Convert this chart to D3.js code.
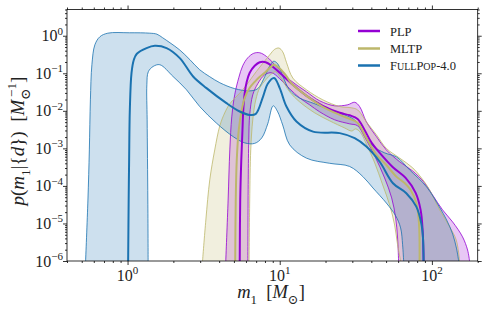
<!DOCTYPE html>
<html>
<head>
<meta charset="utf-8">
<script src="https://cdn.jsdelivr.net/npm/d3@7"></script>
<style>
  body { margin: 0; background: #fff; }
  svg { display: block; font-family: "Liberation Serif", "DejaVu Serif", serif; }
</style>
</head>
<body>
<div id="wrapper"></div>
<script>
// [m1, p] pairs
const plpUpper = [[4.42,1e-6],[4.58,4.2e-5],[4.7,9.1e-4],[4.84,0.0069],[5.06,0.0267],[5.38,0.0759],[5.71,0.158],[6.17,0.259],[6.75,0.341],[7.39,0.352],[8.18,0.281],[9.51,0.152],[11.63,0.067],[15,0.0321],[18.3,0.0185],[23,0.0136],[28,0.0145],[31.1,0.0169],[33.5,0.013],[37.1,0.0051],[43.2,0.00206],[50.2,0.00091],[61.4,0.00044],[74.7,0.00025],[89.5,0.00012],[101,5.75e-5],[117.5,2.3e-5],[136.8,1.1e-5],[159,4.4e-6],[171.6,1.96e-6],[176.8,1e-6]];
const plpMedian = [[5.46,1e-6],[5.5,4.2e-5],[5.59,4.9e-4],[5.69,0.0031],[5.76,0.0106],[5.89,0.0302],[6.07,0.0593],[6.35,0.103],[6.85,0.158],[7.39,0.197],[8.09,0.197],[8.86,0.158],[10,0.103],[12.2,0.0494],[15,0.0251],[19.2,0.0136],[24.8,0.00885],[28.8,0.0076],[32.5,0.0061],[36.1,0.0031],[40.2,0.0014],[45.4,0.00076],[55.2,0.00032],[67.2,0.000163],[78.2,6.5e-5],[84.3,2.3e-5],[86.9,6.7e-6],[88.2,1e-6]];
const plpLower = [[6.17,1e-6],[6.21,1.45e-4],[6.26,0.00169],[6.35,0.0078],[6.65,0.0267],[7.17,0.0525],[7.97,0.0912],[8.86,0.103],[10,0.0714],[11.63,0.0386],[13.5,0.0222],[15.7,0.0145],[18.3,0.0094],[23,0.00575],[28.8,0.0045],[32.5,0.004],[36.1,0.00203],[42.1,0.00063],[48.9,0.000163],[54.4,4.8e-5],[57.8,1.4e-5],[59.5,4.1e-6],[60.4,1e-6]];

const mltpUpper = [[3.11,1e-6],[3.27,1.24e-5],[3.47,1.45e-4],[3.74,9.1e-4],[4.04,0.004],[4.35,0.0088],[4.7,0.0154],[5.71,0.0363],[7.03,0.112],[8.6,0.311],[9.27,0.436],[9.89,0.47],[10.46,0.374],[11.1,0.19],[12.2,0.0745],[15,0.0363],[19.2,0.0196],[24.8,0.013],[29.7,0.012],[32.5,0.0106],[37.1,0.0051],[43.2,0.0023],[50.2,0.001],[61.4,0.00055],[75,0.0003],[87.3,0.000145],[96.6,7.8e-5],[112.4,2.3e-5],[130.7,8.2e-6],[144.6,3.6e-6],[152,1e-6]];
const mltpMedian = [[5.1,1e-6],[5.14,4.2e-5],[5.22,4.9e-4],[5.38,0.0031],[5.63,0.0106],[5.89,0.0222],[6.35,0.041],[6.85,0.0593],[7.39,0.0807],[7.97,0.103],[8.6,0.14],[9.13,0.169],[9.7,0.149],[10.8,0.097],[12,0.0525],[15,0.0251],[19.2,0.0128],[24.8,0.0078],[28.8,0.0061],[32.5,0.0048],[37.1,0.0019],[43.2,0.00067],[50.2,0.00036],[58.4,0.000177],[66.2,0.00012],[72.5,7.8e-5],[79,3.5e-5],[82.2,1.03e-5],[83,1e-6]];
const mltpLower = [[6.29,1e-6],[6.35,4.2e-5],[6.45,9.1e-4],[6.65,0.00575],[6.96,0.0196],[7.39,0.041],[8.09,0.067],[8.86,0.097],[9.41,0.11],[10.15,0.0759],[11.63,0.0321],[13.5,0.0174],[17,0.0088],[21.3,0.0054],[26.7,0.0035],[29.7,0.0029],[31.6,0.0033],[34,0.0026],[37.3,0.00124],[42.1,0.00041],[47.5,0.000106],[52.8,3.1e-5],[56.9,9.1e-6],[59.5,2.7e-6],[62.3,1e-6]];

const fullpopUpper = [[0.53,1e-6],[0.549,4.2e-5],[0.561,9.1e-4],[0.57,0.0196],[0.583,0.169],[0.61,0.575],[0.658,0.94],[0.742,1.17],[1.03,1.2],[1.4,1.17],[1.56,1.1],[1.7,0.885],[1.9,0.65],[2.2,0.42],[2.57,0.23],[2.98,0.124],[3.47,0.081],[4.04,0.056],[5.06,0.039],[6.35,0.034],[7.17,0.039],[7.97,0.081],[8.6,0.158],[9.13,0.209],[9.7,0.179],[10.46,0.086],[11.6,0.036],[13.5,0.022],[17,0.0154],[21.3,0.0106],[26.7,0.0078],[31.1,0.0057],[35.1,0.0029],[40.8,0.00117],[48.9,0.00076],[58.6,0.00059],[71.4,0.000267],[92.3,9.4e-5],[112,2.75e-5],[125,1.24e-5],[137,5.2e-6],[145,2.2e-6],[150,1e-6]];
const fullpopMedian = [[1.009,1e-6],[1.017,4.2e-5],[1.024,4.9e-4],[1.035,0.0106],[1.062,0.103],[1.1,0.229],[1.151,0.331],[1.333,0.47],[1.511,0.541],[1.804,0.47],[2.205,0.254],[2.697,0.0822],[3.302,0.0403],[4.467,0.016],[5.46,0.0096],[6.35,0.0078],[6.96,0.0083],[7.77,0.024],[8.34,0.0525],[9.18,0.0745],[10,0.0403],[11.07,0.013],[12.88,0.0052],[16.55,0.0028],[24.8,0.00255],[31.1,0.00187],[37.1,0.00112],[45.4,0.00044],[55.5,0.000118],[67.9,6.4e-5],[79,2.8e-5],[85.2,1e-5],[87.3,4.4e-6],[88.2,1e-6]];
const fullpopLower = [[1.365,1e-6],[1.359,4.2e-5],[1.345,0.00575],[1.339,0.0494],[1.369,0.11],[1.473,0.152],[1.63,0.169],[1.99,0.0822],[2.44,0.0363],[2.98,0.013],[3.84,0.0047],[4.94,0.00206],[5.89,0.0014],[6.85,0.00136],[7.62,0.0019],[8.34,0.0045],[9.06,0.0136],[9.7,0.0094],[10.46,0.0042],[11.63,0.00124],[14.97,0.00055],[21.3,0.0004],[28.8,0.00033],[35.2,0.000177],[41,8.8e-5],[50.2,3.5e-5],[57.8,1.6e-5],[62.3,7.6e-6],[64.2,2.7e-6],[65.2,1e-6]];

const legendLabels = ["PLP", "MLTP", "FullPop-4.0"];
const xMajor = [1, 10, 100];
const xMajorExp = ["0", "1", "2"];
const yMajor = [1e-6, 1e-5, 1e-4, 1e-3, 1e-2, 1e-1, 1];
const yMajorExp = ["\u22126", "\u22125", "\u22124", "\u22123", "\u22122", "\u22121", "0"];

const series = [
  { name: legendLabels[0], color: "#9400d3", upper: plpUpper, median: plpMedian, lower: plpLower },
  { name: legendLabels[1], color: "#bdb76b", upper: mltpUpper, median: mltpMedian, lower: mltpLower },
  { name: legendLabels[2], color: "#1a72b0", upper: fullpopUpper, median: fullpopMedian, lower: fullpopLower },
];

const dimensions = {
  width: 488,
  height: 311,
  margin: { top: 9.5, right: 10.3, bottom: 50, left: 67 },
};
dimensions.boundedWidth = dimensions.width - dimensions.margin.left - dimensions.margin.right;
dimensions.boundedHeight = dimensions.height - dimensions.margin.top - dimensions.margin.bottom;

const svg = d3.select("#wrapper").append("svg")
  .attr("width", dimensions.width)
  .attr("height", dimensions.height);

const bounds = svg.append("g")
  .attr("transform", `translate(${dimensions.margin.left},${dimensions.margin.top})`);

const xScale = d3.scaleLog().domain([0.4, 200]).range([0, dimensions.boundedWidth]);
const yScale = d3.scaleLog().domain([1e-6, 5]).range([dimensions.boundedHeight, 0]);

bounds.append("clipPath").attr("id", "plot-clip")
  .append("rect").attr("width", dimensions.boundedWidth).attr("height", dimensions.boundedHeight);
const plot = bounds.append("g").attr("clip-path", "url(#plot-clip)");

const lineGenerator = d3.line()
  .x((d) => xScale(d[0]))
  .y((d) => yScale(d[1]))
  .curve(d3.curveCatmullRom.alpha(0.5));

// bands
series.forEach((s) => {
  const d = lineGenerator(s.upper) + "L" + lineGenerator(s.lower.slice().reverse()).slice(1) + "Z";
  plot.append("path").attr("d", d)
    .attr("fill", s.color).attr("fill-opacity", 0.22).attr("stroke", "none");
});
series.forEach((s) => {
  [s.upper, s.lower].forEach((b) => {
    plot.append("path").attr("d", lineGenerator(b))
      .attr("fill", "none").attr("stroke", s.color).attr("stroke-width", 0.8);
  });
});
// medians
series.forEach((s) => {
  plot.append("path").attr("d", lineGenerator(s.median))
    .attr("fill", "none").attr("stroke", s.color).attr("stroke-width", 2);
});

// axes: ticks outward on all four sides
const xMinor = [];
const yMinor = [];
[0.1, 1, 10, 100].forEach((dec) => {
  for (let k = 2; k <= 9; k++) {
    const v = k * dec;
    if (v >= 0.4 && v <= 200) xMinor.push(v);
  }
});
[1e-6, 1e-5, 1e-4, 1e-3, 1e-2, 1e-1, 1].forEach((dec) => {
  for (let k = 2; k <= 9; k++) {
    const v = k * dec;
    if (v <= 5) yMinor.push(v);
  }
});

function styleAxis(g) {
  g.select(".domain").remove();
  g.selectAll(".tick line").attr("stroke", "#000").attr("stroke-width", 0.8);
}

const axes = [
  [d3.axisBottom, xScale, `translate(0,${dimensions.boundedHeight})`, xMajor, xMinor],
  [d3.axisTop, xScale, "translate(0,0)", xMajor, xMinor],
  [d3.axisLeft, yScale, "translate(0,0)", yMajor, yMinor],
  [d3.axisRight, yScale, `translate(${dimensions.boundedWidth},0)`, yMajor, yMinor],
];
axes.forEach(([axisFn, scale, tr, major, minor]) => {
  bounds.append("g").attr("transform", tr)
    .call(axisFn(scale).tickValues(minor).tickSize(2).tickFormat(""))
    .call(styleAxis);
  bounds.append("g").attr("transform", tr)
    .call(axisFn(scale).tickValues(major).tickSize(4).tickFormat(""))
    .call(styleAxis);
});

bounds.append("rect")
  .attr("width", dimensions.boundedWidth).attr("height", dimensions.boundedHeight)
  .attr("fill", "none").attr("stroke", "#000").attr("stroke-width", 0.8);

// tick labels
xMajor.forEach((v, i) => {
  const t = bounds.append("text")
    .attr("x", xScale(v)).attr("y", dimensions.boundedHeight + 19.5)
    .attr("text-anchor", "middle").attr("font-size", 16).attr("fill", "#222");
  t.append("tspan").text("10");
  t.append("tspan").attr("dy", -6.5).attr("font-size", 11).text(xMajorExp[i]);
});
yMajor.forEach((v, i) => {
  const t = bounds.append("text")
    .attr("x", -4).attr("y", yScale(v) + 5.5)
    .attr("text-anchor", "end").attr("font-size", 16).attr("fill", "#222");
  t.append("tspan").text("10");
  t.append("tspan").attr("dy", -6.5).attr("font-size", 11).text(yMajorExp[i]);
});

// rich label helper
function addRich(sel, parts, size) {
  let shift = 0;
  parts.forEach(([str, style, dx]) => {
    const ts = sel.append("tspan").text(str);
    let target = 0;
    let fs = size;
    if (style.includes("sub")) { target = size * 0.3; fs = size * 0.7; }
    if (style.includes("sup")) { target = -size * 0.42; fs = size * 0.7; }
    ts.attr("dy", target - shift).attr("font-size", fs);
    if (style.includes("i")) ts.attr("font-style", "italic");
    if (dx) ts.attr("dx", dx);
    shift = target;
  });
}

const yLabel = svg.append("text")
  .attr("transform", "translate(24,141) rotate(-90)")
  .attr("text-anchor", "middle").attr("fill", "#222");
addRich(yLabel, [
  ["p", "i"], ["(", ""], ["m", "i"], ["1", "sub"], ["|{", ""], ["d", "i"], ["})\u2002[", ""],
  ["M", "i"], ["\u2299", "sub"], ["\u22121", "sup", -8.5], ["]", ""],
], 19);

const xLabel = svg.append("text")
  .attr("x", 271).attr("y", 298)
  .attr("text-anchor", "middle").attr("fill", "#222");
addRich(xLabel, [
  ["m", "i"], ["1", "sub"], ["\u2002[", ""], ["M", "i"], ["\u2299", "sub"], ["]", ""],
], 18.5);

// legend
const legend = svg.append("g");
const legendY = [31, 48.5, 65.5];
series.forEach((s, i) => {
  legend.append("line")
    .attr("x1", 358).attr("x2", 380).attr("y1", legendY[i]).attr("y2", legendY[i])
    .attr("stroke", s.color).attr("stroke-width", 2.5);
  const t = legend.append("text")
    .attr("x", 390).attr("y", legendY[i] + 4.5)
    .attr("font-size", 12.5).attr("fill", "#222");
  // small caps: lowercase letters drawn as smaller capitals
  const runs = [];
  for (const ch of s.name) {
    const small = ch !== ch.toUpperCase();
    if (runs.length && runs[runs.length - 1].small === small) runs[runs.length - 1].str += ch;
    else runs.push({ small, str: ch });
  }
  runs.forEach((r) => {
    t.append("tspan").attr("font-size", r.small ? 10 : 12.5).text(r.str.toUpperCase());
  });
});
</script>
</body>
</html>
